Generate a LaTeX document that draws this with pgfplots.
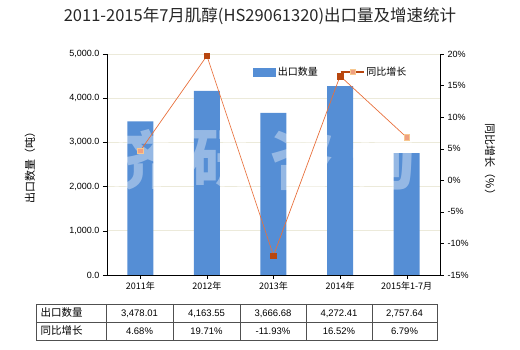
\documentclass[border=0pt]{standalone}
\usepackage{fontspec}
\setmainfont{Liberation Sans}
\newfontfamily\cjk{Noto Sans CJK SC}
\usepackage{pgfplots}
\pgfplotsset{compat=1.18}
\definecolor{barblue}{RGB}{85,142,213}
\definecolor{lineor}{RGB}{232,112,60}
\definecolor{markdark}{RGB}{184,70,15}
\definecolor{marklight}{RGB}{240,160,128}
\definecolor{markedge}{RGB}{247,200,144}
\definecolor{gridc}{RGB}{236,234,218}
\definecolor{tabline}{RGB}{80,80,80}
\begin{document}
\begin{tikzpicture}
\path[use as bounding box] (-107pt,-75pt) rectangle (413pt,275pt);
\begin{axis}[
  at={(0pt,0pt)}, anchor=south west,
  scale only axis, width=333pt, height=221pt,
  xmin=-0.5, xmax=4.5, ymin=0, ymax=5000,
  axis y line*=left, axis x line*=bottom,
  axis line style={black},
  tick align=outside, major tick length=4pt,
  xtick={0,1,2,3,4},
  xticklabels={2011年,2012年,2013年,2014年,2015年1-7月},
  xticklabel style={font=\cjk\fontsize{9}{10}\selectfont, yshift=1pt},
  ytick={0,1000,2000,3000,4000,5000},
  yticklabel style={font=\fontsize{9}{10}\selectfont,
    /pgf/number format/.cd, fixed, fixed zerofill, precision=1, 1000 sep={,}},
  /pgf/number format/assume math mode=true,
  ymajorgrids, grid style={gridc, line width=0.6pt},
  tick style={black},
]
\addplot[ybar, bar width=26pt, fill=barblue, draw=none] coordinates {
  (0,3478.01) (1,4163.55) (2,3666.68) (3,4272.41) (4,2757.64)};
\end{axis}
% watermark
\foreach \x/\c in {33/济,116/研,195/咨,276/询}
  \node[white, opacity=0.38, inner sep=0pt, font=\cjk\bfseries\fontsize{64}{64}\selectfont] at (\x pt,115pt) {\c};
\begin{axis}[
  at={(0pt,0pt)}, anchor=south west,
  scale only axis, width=333pt, height=221pt,
  xmin=-0.5, xmax=4.5, ymin=-15, ymax=20,
  axis y line*=right, axis x line=none,
  axis line style={black},
  tick align=outside, major tick length=4pt, tick style={black},
  ytick={-15,-10,-5,0,5,10,15,20},
  yticklabel={\pgfmathprintnumber{\tick}\%},
  yticklabel style={font=\fontsize{9}{10}\selectfont},
  /pgf/number format/assume math mode=true,
  legend columns=2,
  legend style={draw=none, fill=none, at={(0.43,0.918)}, anchor=west,
    font=\cjk\fontsize{10}{11}\selectfont,
    /tikz/every even column/.append style={column sep=20pt}},
]
\addlegendimage{legend image code/.code={\fill[barblue] (0pt,-4pt) rectangle (22pt,4pt);}}
\addlegendentry{出口数量}
\addlegendimage{legend image code/.code={
  \draw[markdark, line width=1.6pt] (0pt,0pt) -- (23pt,0pt);
  \fill[marklight, draw=markedge] (9.5pt,-2.5pt) rectangle (14.5pt,2.5pt);}}
\addlegendentry{同比增长}
\addplot[lineor, line width=0.7pt, no marks, forget plot] coordinates {
  (0,4.68) (1,19.71) (2,-11.93) (3,16.52) (4,6.79)};
\addplot[only marks, mark=square*, mark size=2.8pt, mark options={fill=markdark, draw=markdark}, forget plot] coordinates {
  (1,19.71) (2,-11.93) (3,16.52)};
\addplot[only marks, mark=square*, mark size=2.8pt, mark options={fill=marklight, draw=markedge}, forget plot] coordinates {
  (0,4.68) (4,6.79)};
\end{axis}
% title
\node[font=\cjk\fontsize{16.5}{18}\selectfont, text=black!85] at (153pt,259pt) {2011-2015年7月肌醇(HS29061320)出口量及增速统计};
% axis titles
\node[rotate=90, font=\cjk\fontsize{11}{12}\selectfont] at (-77pt,110pt) {出口数量（吨）};
\node[rotate=-90, font=\cjk\fontsize{11}{12}\selectfont] at (383pt,113pt) {同比增长（\%）};
% data table
\draw[tabline, line width=0.6pt] (-71pt,-29pt) rectangle (330pt,-65pt);
\draw[tabline, line width=0.6pt] (-71pt,-47pt) -- (330pt,-47pt);
\foreach \x in {-1,66,133,199,265}
  \draw[tabline, line width=0.6pt] (\x pt,-29pt) -- (\x pt,-65pt);
\node[anchor=west, font=\cjk\fontsize{10.5}{11}\selectfont] at (-70pt,-38pt) {出口数量};
\node[anchor=west, font=\cjk\fontsize{10.5}{11}\selectfont] at (-70pt,-56pt) {同比增长};
\foreach \x/\v/\g in {32.5/3{,}478.01/4.68\%, 99.5/4{,}163.55/19.71\%, 166/3{,}666.68/-11.93\%, 232/4{,}272.41/16.52\%, 297.5/2{,}757.64/6.79\%} {
  \node[font=\fontsize{9.5}{11}\selectfont] at (\x pt,-38.5pt) {\v};
  \node[font=\fontsize{9.5}{11}\selectfont] at (\x pt,-56.5pt) {\g};
}
\end{tikzpicture}
\end{document}
